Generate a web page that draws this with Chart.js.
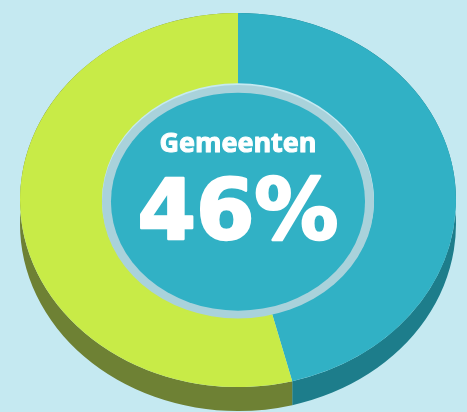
<!DOCTYPE html>
<html>
<head>
<meta charset="utf-8">
<script src="https://cdn.jsdelivr.net/npm/chart.js@4.4.1/dist/chart.umd.min.js"></script>
<style>
  html, body { margin: 0; padding: 0; background: #c5e9f1; overflow: hidden; }
  #wrap { width: 467px; height: 412px; }
</style>
</head>
<body>
<div id="wrap"><canvas id="pie" width="467" height="412"></canvas></div>
<script>
// data
const labels = ['Gemeenten', 'Overig'];
const values = [46, 54];

// look
const topColors = ['#31b1c5', '#c8eb47'];
const sideColors = ['#1d7d8b', '#6e8134'];
const ringColor = '#a9d2db';
const tilt = 187 / 218;   // vertical squash of the disc
const depth = 24;         // side wall height on screen, px

// draws the side wall, squashes the disc and fills the centre
const pie3d = {
  id: 'pie3d',
  beforeDatasetsDraw(chart) {
    const ctx = chart.ctx;
    const arcs = chart.getDatasetMeta(0).data;
    const cx = arcs[0].x, cy = arcs[0].y;
    ctx.save();
    ctx.translate(cx, cy);
    ctx.scale(1, tilt);
    ctx.translate(-cx, -cy);
    const off = depth / tilt;
    arcs.forEach((arc, i) => {
      ctx.fillStyle = sideColors[i];
      ctx.beginPath();
      ctx.arc(arc.x, arc.y, arc.outerRadius, arc.startAngle, arc.endAngle);
      ctx.arc(arc.x, arc.y + off, arc.outerRadius, arc.endAngle, arc.startAngle, true);
      ctx.closePath();
      ctx.fill();
    });
  },
  afterDatasetsDraw(chart) {
    const ctx = chart.ctx;
    const arc = chart.getDatasetMeta(0).data[0];
    ctx.fillStyle = ringColor;
    ctx.beginPath();
    ctx.arc(arc.x, arc.y + 2, arc.innerRadius, 0, Math.PI * 2);
    ctx.fill();
    ctx.fillStyle = topColors[0];
    ctx.beginPath();
    ctx.arc(arc.x, arc.y + 2, arc.innerRadius - 9, 0, Math.PI * 2);
    ctx.fill();
    ctx.restore();

    // centre labels (a thin stroke makes the glyphs as heavy as the original)
    ctx.save();
    ctx.fillStyle = '#ffffff';
    ctx.strokeStyle = '#ffffff';
    ctx.lineJoin = 'round';
    ctx.textAlign = 'center';
    ctx.textBaseline = 'alphabetic';
    ctx.font = 'bold 27px "Open Sans"';
    ctx.lineWidth = 1;
    ctx.fillText(labels[0], arc.x, 152);
    ctx.strokeText(labels[0], arc.x, 152);
    ctx.font = 'bold 84px "DejaVu Sans"';
    ctx.lineWidth = 2.5;
    ctx.fillText(values[0] + '%', arc.x, 239);
    ctx.strokeText(values[0] + '%', arc.x, 239);
    ctx.restore();
  }
};

new Chart(document.getElementById('pie'), {
  type: 'doughnut',
  data: {
    labels: labels,
    datasets: [{
      data: values,
      backgroundColor: topColors,
      borderWidth: 0,
      radius: 218,
      cutout: '62.4%',
      clip: false
    }]
  },
  options: {
    responsive: false,
    animation: false,
    layout: { padding: { left: 20, right: 11, top: 0, bottom: 12 } },
    plugins: {
      legend: { display: false },
      tooltip: { enabled: false }
    }
  },
  plugins: [pie3d]
});
</script>
</body>
</html>
